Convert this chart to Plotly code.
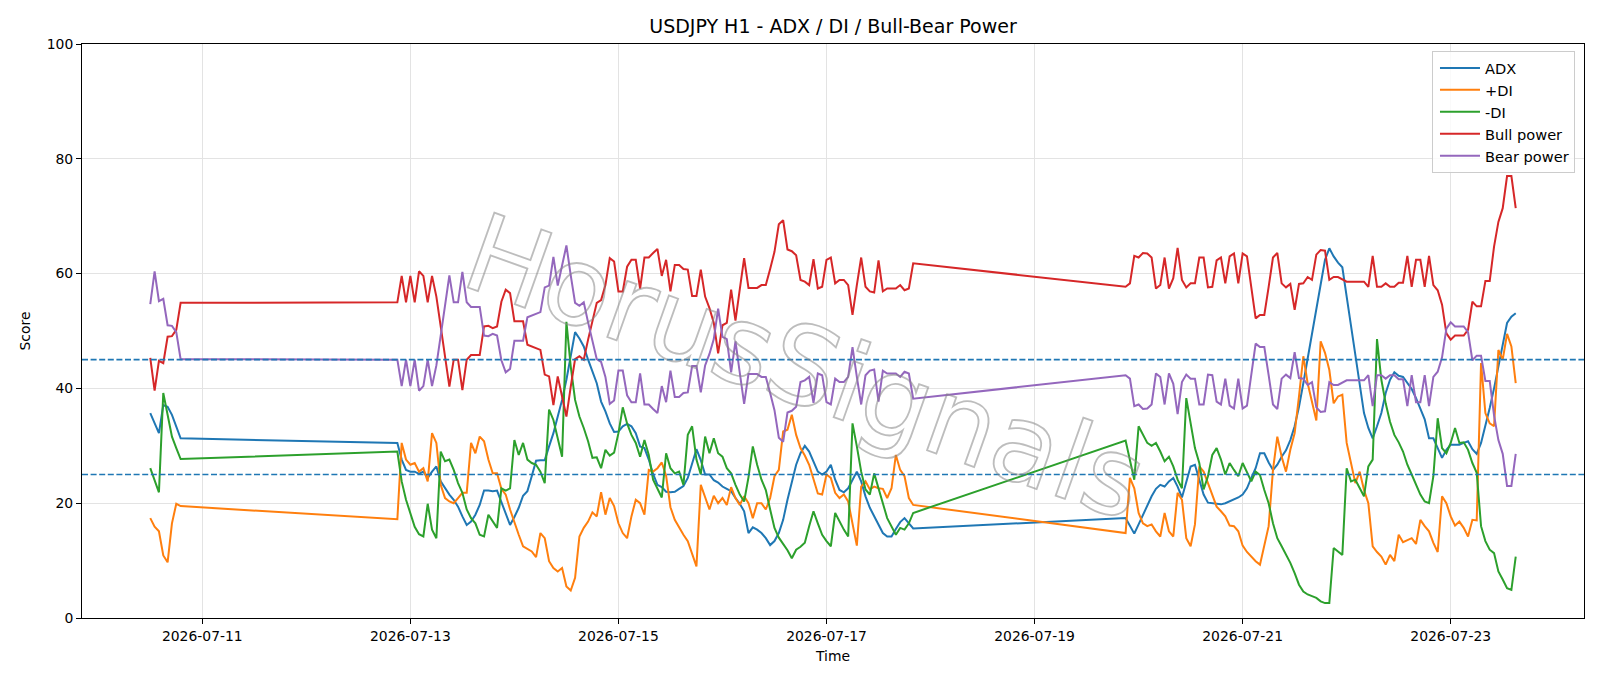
import pandas as pd
import plotly.graph_objects as go

# hourly segments (start, number of bars) - market closed at weekends
SEGMENTS = [("2026-07-10 12:00", 8), ("2026-07-12 21:00", 120), ("2026-07-19 21:00", 91)]

ADX = [
    35.7, 33.9, 32.2, 37.1, 36.8, 35.4, 33.4, 31.3,
    30.5, 27.6, 25.8, 25.5, 25.5, 25.1, 25.5, 24.4, 25.5, 26.4,
    23.8, 22.6, 21.5, 20.6, 19.4, 17.7, 16.2, 16.8, 18.0, 19.7,
    22.2, 22.2, 22.1, 22.2, 20.3, 18.2, 16.2, 17.6, 19.2, 21.3,
    22.1, 24.7, 27.4, 27.5, 27.5, 29.9, 32.2, 35.1, 38.0, 41.5,
    45.6, 49.8, 48.7, 47.3, 45.0, 43.0, 40.9, 37.7, 36.0, 33.9,
    32.4, 32.5, 33.4, 33.8, 33.4, 32.2, 29.9, 29.6, 27.6, 25.1,
    23.2, 22.8, 22.0, 21.9, 22.0, 22.5, 23.0, 24.4, 27.0, 29.4,
    27.5, 25.0, 25.0, 24.0, 23.6, 22.9, 22.5, 22.1, 20.9, 19.9,
    18.6, 14.8, 15.8, 15.4, 14.8, 13.9, 12.7, 13.4, 14.8, 17.1,
    20.6, 23.5, 26.7, 28.7, 30.0, 29.0, 27.3, 25.5, 25.0, 25.5,
    26.7, 24.1, 22.3, 21.9, 22.6, 24.1, 25.5, 23.8, 21.2, 19.2,
    17.7, 16.3, 14.8, 14.2, 14.2, 15.5, 16.7, 17.4, 16.5, 15.6,
    17.4, 16.0, 14.7, 16.3, 18.0, 19.7, 21.2, 22.5, 23.2, 22.9,
    23.8, 24.4, 22.9, 21.0, 23.5, 26.4, 26.7, 24.1, 21.5, 20.1,
    20.0, 19.8, 19.8, 20.0, 20.3, 20.6, 21.0, 21.5, 22.6, 24.4,
    26.1, 28.7, 28.7, 27.1, 25.8, 26.7, 28.1, 29.2, 31.0, 33.4,
    36.8, 40.9, 45.3, 49.6, 54.0, 58.3, 62.4, 64.4, 63.0, 61.9,
    61.1, 56.0, 50.8, 45.6, 40.3, 35.7, 33.1, 31.3, 33.4, 35.7,
    39.2, 41.5, 42.8, 42.2, 42.0, 41.0, 39.9, 38.3, 36.6, 34.6,
    31.3, 31.3, 29.6, 27.9, 29.3, 30.2, 30.2, 30.2, 30.5, 30.8,
    29.4, 28.6, 30.5, 33.4, 36.6, 40.0, 43.8, 47.6, 51.4, 52.5,
    53.1,
]

PLUS_DI = [
    17.4, 15.9, 15.1, 10.9, 9.7, 16.5, 19.9, 19.5,
    17.2, 30.5, 27.6, 26.7, 27.0, 25.5, 26.1, 23.8, 32.2, 30.5,
    23.2, 20.9, 20.3, 20.0, 20.9, 21.8, 21.8, 30.5, 28.7, 31.6,
    30.8, 27.6, 25.2, 25.2, 22.5, 21.5, 18.9, 16.5, 14.5, 12.5,
    12.0, 11.6, 10.6, 14.8, 13.9, 9.9, 8.7, 8.1, 8.7, 5.5,
    4.8, 7.0, 14.2, 15.7, 16.8, 18.4, 17.7, 21.9, 18.0, 20.9,
    19.5, 16.5, 14.8, 13.9, 17.7, 20.6, 20.0, 18.0, 25.8, 25.5,
    26.1, 27.1, 24.8, 19.3, 17.1, 15.7, 14.5, 13.4, 11.3, 9.0,
    23.2, 21.2, 18.9, 21.3, 20.0, 20.9, 19.7, 22.8, 20.9, 19.7,
    21.2, 20.0, 17.4, 20.0, 20.0, 18.9, 20.9, 24.7, 25.8, 32.5,
    32.8, 35.4, 31.9, 29.6, 28.3, 26.7, 24.1, 21.7, 21.5, 25.0,
    24.4, 21.8, 20.9, 21.5, 20.3, 16.5, 12.6, 22.9, 23.8, 22.4,
    22.9, 22.6, 22.5, 20.9, 22.6, 28.4, 25.8, 24.7, 20.9, 19.7,
    14.8, 24.4, 22.6, 18.3, 16.5, 16.0, 16.3, 15.1, 14.2, 18.3,
    15.1, 14.2, 21.8, 20.6, 13.9, 12.5, 16.3, 26.4, 25.5, 23.5,
    21.5, 19.4, 18.6, 17.7, 16.1, 16.0, 15.1, 12.6, 11.5, 10.7,
    9.9, 9.3, 12.8, 16.0, 25.8, 31.6, 28.1, 25.5, 29.3, 32.2,
    38.6, 45.6, 40.9, 37.4, 34.4, 48.2, 46.2, 43.2, 37.4, 38.6,
    38.9, 30.5, 27.0, 23.5, 25.5, 22.3, 20.0, 12.5, 11.5, 10.7,
    9.3, 11.0, 9.9, 14.5, 13.2, 13.6, 13.9, 12.9, 17.1, 16.0,
    15.1, 13.1, 11.5, 21.2, 20.0, 17.7, 16.1, 16.8, 15.7, 14.2,
    17.1, 17.0, 44.4, 35.7, 33.9, 33.4, 46.7, 45.0, 49.5, 47.3,
    40.9,
]

MINUS_DI = [
    26.1, 24.1, 21.9, 39.2, 35.1, 31.6, 29.6, 27.7,
    29.0, 23.8, 20.6, 18.3, 15.9, 14.6, 14.2, 19.9, 15.4, 13.9,
    29.0, 27.3, 27.6, 25.8, 23.5, 21.8, 18.9, 17.4, 16.5, 14.5,
    14.2, 18.0, 16.8, 15.7, 22.6, 22.2, 22.6, 31.0, 28.4, 30.5,
    27.6, 27.0, 26.7, 25.5, 23.5, 36.3, 34.5, 31.3, 28.1, 51.6,
    43.8, 38.0, 35.1, 33.1, 30.8, 27.9, 28.0, 26.1, 29.3, 28.3,
    28.8, 32.2, 36.7, 33.9, 31.9, 30.5, 28.1, 31.0, 28.4, 24.1,
    22.6, 21.0, 28.7, 26.1, 25.2, 25.5, 23.2, 31.9, 33.4, 27.6,
    25.0, 31.6, 28.7, 31.3, 28.7, 28.1, 26.1, 25.2, 23.2, 21.5,
    20.3, 24.5, 29.9, 26.7, 24.1, 22.3, 18.9, 15.7, 14.0, 12.9,
    11.8, 10.4, 11.9, 12.4, 13.1, 16.0, 18.6, 16.5, 14.5, 13.4,
    12.5, 18.3, 16.8, 15.4, 14.2, 33.9, 29.9, 25.5, 22.4, 21.5,
    25.2, 22.4, 20.0, 17.4, 16.0, 14.5, 15.7, 15.4, 16.5, 18.3,
    30.9, 27.5, 24.1, 33.4, 32.0, 30.5, 30.0, 30.5, 29.0, 27.3,
    28.1, 26.4, 24.1, 22.6, 38.3, 34.0, 29.6, 27.0, 22.4, 24.7,
    28.4, 29.6, 27.6, 25.0, 27.0, 25.8, 24.7, 27.0, 25.5, 23.8,
    25.5, 24.9, 22.3, 20.0, 16.5, 13.9, 12.5, 11.0, 9.6, 7.8,
    5.8, 4.6, 4.1, 3.8, 3.5, 2.9, 2.6, 2.6, 12.2, 11.6,
    11.0, 26.1, 23.8, 24.1, 22.6, 21.2, 26.4, 27.6, 48.6, 41.5,
    37.4, 34.2, 31.9, 30.6, 29.0, 26.7, 25.0, 23.2, 21.5, 20.3,
    20.0, 24.7, 34.8, 29.6, 28.7, 30.5, 33.1, 30.5, 30.6, 29.3,
    27.0, 25.3, 16.0, 13.4, 11.9, 11.3, 8.1, 6.7, 5.2, 4.9,
    10.7,
]

BULL_POWER = [
    45.3, 39.6, 44.8, 44.4, 49.0, 49.1, 50.2, 54.9,
    55.0, 59.6, 55.0, 59.6, 55.0, 60.4, 59.6, 55.0, 59.6, 56.0,
    50.8, 45.6, 40.3, 45.0, 45.0, 39.7, 45.0, 45.8, 45.8, 45.8,
    50.8, 50.9, 50.5, 50.8, 55.1, 57.2, 56.6, 51.7, 51.7, 51.7,
    47.6, 47.3, 47.0, 46.7, 42.4, 42.1, 37.1, 42.1, 38.6, 35.1,
    40.3, 45.1, 45.6, 45.0, 48.5, 51.9, 54.9, 55.4, 58.0, 62.7,
    62.1, 56.9, 56.9, 61.2, 62.4, 62.4, 57.4, 62.8, 62.8, 63.6,
    64.3, 59.6, 62.4, 56.9, 61.5, 61.5, 60.8, 60.7, 56.1, 56.1,
    60.7, 56.0, 54.0, 51.4, 46.1, 51.0, 51.4, 57.2, 51.8, 57.3,
    62.7, 57.5, 57.5, 57.5, 58.0, 58.0, 60.8, 63.8, 68.6, 69.3,
    64.2, 63.9, 63.2, 58.9, 58.6, 58.0, 62.5, 57.4, 57.7, 62.4,
    62.8, 58.3, 58.9, 58.9, 58.0, 52.8, 58.0, 62.8, 57.7, 56.9,
    56.7, 62.3, 56.9, 57.4, 57.4, 57.4, 58.0, 57.1, 57.4, 61.8,
    57.7, 58.3, 63.1, 62.8, 63.6, 63.5, 62.8, 57.4, 58.0, 62.8,
    57.4, 59.2, 64.5, 58.9, 57.6, 58.3, 58.3, 62.8, 62.8, 57.6,
    57.7, 62.3, 62.8, 58.3, 63.0, 63.5, 58.3, 63.5, 63.0, 57.7,
    52.2, 52.8, 52.8, 57.7, 62.8, 63.6, 58.3, 57.6, 58.2, 53.7,
    58.2, 58.3, 59.4, 58.9, 63.3, 64.1, 64.0, 58.9, 59.4, 59.4,
    59.0, 58.6, 58.6, 58.6, 58.6, 58.6, 57.7, 63.1, 57.7, 57.7,
    58.3, 57.7, 57.7, 58.4, 58.4, 63.1, 57.7, 62.4, 62.4, 57.7,
    63.1, 58.0, 57.1, 54.6, 49.6, 48.5, 49.2, 49.2, 49.2, 50.2,
    55.1, 54.3, 54.3, 58.7, 58.7, 64.7, 69.0, 71.4, 77.0, 77.0,
    71.4,
]

BEAR_POWER = [
    54.7, 60.4, 55.2, 55.6, 51.0, 50.9, 49.8, 45.1,
    45.0, 40.4, 45.0, 40.4, 45.0, 39.6, 40.4, 45.0, 40.4, 44.0,
    49.2, 54.4, 59.7, 55.0, 55.0, 60.3, 55.0, 54.2, 54.2, 54.2,
    49.2, 49.1, 49.5, 49.2, 44.9, 42.8, 43.4, 48.3, 48.3, 48.3,
    52.4, 52.7, 53.0, 53.3, 57.6, 57.9, 62.9, 57.9, 61.4, 64.9,
    59.7, 54.9, 54.4, 55.0, 51.5, 48.1, 45.1, 44.6, 42.0, 37.3,
    37.9, 43.1, 43.1, 38.8, 37.6, 37.6, 42.6, 37.2, 37.2, 36.4,
    35.7, 40.4, 37.6, 43.1, 38.5, 38.5, 39.2, 39.3, 43.9, 43.9,
    39.3, 44.0, 46.0, 48.6, 53.9, 49.0, 48.6, 42.8, 48.2, 42.7,
    37.3, 42.5, 42.5, 42.5, 42.0, 42.0, 39.2, 36.2, 31.4, 30.7,
    35.8, 36.1, 36.8, 41.1, 41.4, 42.0, 37.5, 42.6, 42.3, 37.6,
    37.2, 41.7, 41.1, 41.1, 42.0, 47.2, 42.0, 37.2, 42.3, 43.1,
    43.3, 37.7, 43.1, 42.6, 42.6, 42.6, 42.0, 42.9, 42.6, 38.2,
    42.3, 41.7, 36.9, 37.2, 36.4, 36.5, 37.2, 42.6, 42.0, 37.2,
    42.6, 40.8, 35.5, 41.1, 42.4, 41.7, 41.7, 37.2, 37.2, 42.4,
    42.3, 37.7, 37.2, 41.7, 37.0, 36.5, 41.7, 36.5, 37.0, 42.3,
    47.8, 47.2, 47.2, 42.3, 37.2, 36.4, 41.7, 42.4, 41.8, 46.3,
    41.8, 41.7, 40.6, 41.1, 36.7, 35.9, 36.0, 41.1, 40.6, 40.6,
    41.0, 41.4, 41.4, 41.4, 41.4, 41.4, 42.3, 36.9, 42.3, 42.3,
    41.7, 42.3, 42.3, 41.6, 41.6, 36.9, 42.3, 37.6, 37.6, 42.3,
    36.9, 42.0, 42.9, 45.4, 50.4, 51.5, 50.8, 50.8, 50.8, 49.8,
    44.9, 45.7, 45.7, 41.3, 41.3, 35.3, 31.0, 28.6, 23.0, 23.0,
    28.6,
]

TICK_DATES = ["2026-07-11", "2026-07-13", "2026-07-15", "2026-07-17",
              "2026-07-19", "2026-07-21", "2026-07-23"]
THRESHOLDS = [45, 25]

times = []
for start, n in SEGMENTS:
    times.extend(pd.date_range(start, periods=n, freq="h"))

series = [
    ("ADX", ADX, "#1f77b4"),
    ("+DI", PLUS_DI, "#ff7f0e"),
    ("-DI", MINUS_DI, "#2ca02c"),
    ("Bull power", BULL_POWER, "#d62728"),
    ("Bear power", BEAR_POWER, "#9467bd"),
]

fig = go.Figure()
for name, vals, col in series:
    n = min(len(vals), len(times))
    fig.add_trace(go.Scatter(x=times[:n], y=vals[:n], mode="lines", name=name,
                             line=dict(color=col, width=2)))

for th in THRESHOLDS:
    fig.add_hline(y=th, line=dict(color="#1f77b4", width=1.7, dash="6px,2.6px"))

fig.add_annotation(text="HorusSignals", xref="paper", yref="paper", x=0.482, y=0.437,
                   showarrow=False, textangle=19.5,
                   font=dict(family="DejaVu Sans", size=109, color="rgba(150,150,150,0.35)"))

axis_common = dict(showgrid=True, gridcolor="#e3e3e3", gridwidth=1, showline=True,
                   linecolor="black", linewidth=1, mirror=True, ticks="outside",
                   ticklen=5, tickcolor="black", zeroline=False,
                   tickfont=dict(size=13.9, color="black"))

fig.update_layout(
    width=1600, height=686,
    margin=dict(l=82, r=16, t=44, b=68),
    paper_bgcolor="white", plot_bgcolor="white",
    font=dict(family="DejaVu Sans", color="black", size=13.9),
    title=dict(text="USDJPY H1 - ADX / DI / Bull-Bear Power", x=0.5, xref="paper",
               xanchor="center", y=1 - 26.5 / 686, yanchor="middle", font=dict(size=19)),
    xaxis=dict(range=["2026-07-09 20:15", "2026-07-24 06:45"], tickvals=TICK_DATES,
               ticktext=TICK_DATES, title=dict(text="Time", standoff=8, font=dict(size=13.9)),
               **axis_common),
    yaxis=dict(range=[0, 100], dtick=20, tick0=0,
               title=dict(text="Score", standoff=12, font=dict(size=13.9)), **axis_common),
    legend=dict(x=0.9940, y=0.9880, xanchor="right", yanchor="top",
                bgcolor="rgba(255,255,255,0.8)", bordercolor="#cccccc", borderwidth=1,
                font=dict(size=14.6), itemwidth=40, indentation=2),
    showlegend=True,
)

post = """
function hsOutline(){
  document.querySelectorAll('.annotation-text').forEach(function(t){
    if (t.textContent.indexOf('HorusSignals') >= 0) {
      t.style.fill = 'none';
      t.style.stroke = 'rgba(135,135,135,0.55)';
      t.style.strokeWidth = '1.8px';
    }
  });
}
hsOutline();
var gdEl = document.getElementById('{plot_id}');
if (gdEl && gdEl.on) { gdEl.on('plotly_afterplot', hsOutline); }
"""

fig.write_html("out.html", post_script=post)
